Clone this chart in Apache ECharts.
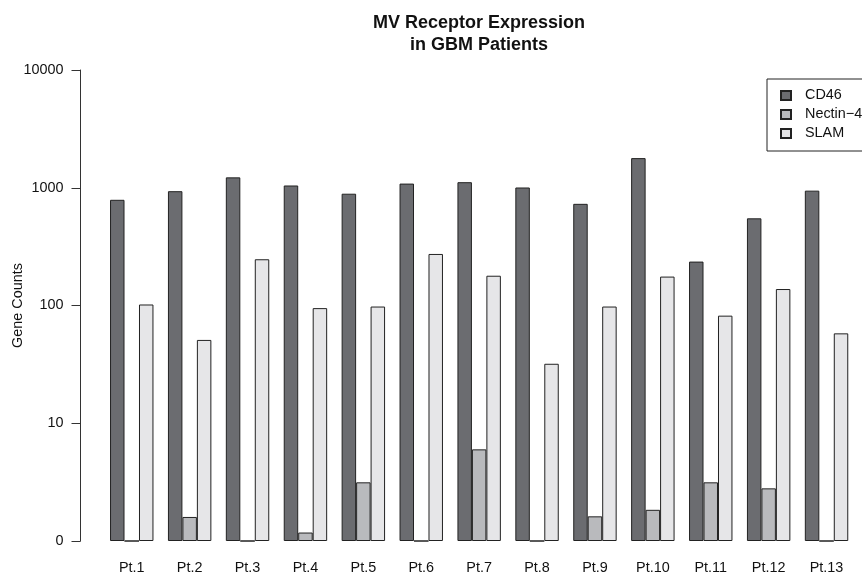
<!DOCTYPE html>
<html>
<head>
<meta charset="utf-8">
<title>MV Receptor Expression in GBM Patients</title>
<script src="https://cdn.jsdelivr.net/npm/echarts@6/dist/echarts.min.js"></script>
<style>
  html, body { margin: 0; padding: 0; background: #ffffff; }
  #chart { width: 862px; height: 574px; }
</style>
</head>
<body>
<div id="chart"></div>
<script>
// Patients on the x axis
const patients = ['Pt.1', 'Pt.2', 'Pt.3', 'Pt.4', 'Pt.5', 'Pt.6', 'Pt.7',
                  'Pt.8', 'Pt.9', 'Pt.10', 'Pt.11', 'Pt.12', 'Pt.13'];

// Gene counts per receptor (0 = not detected)
const cd46    = [790, 935, 1225, 1045, 890, 1085, 1115, 1005, 730, 1785, 236, 550, 945];
const nectin4 = [0, 1.6, 0, 1.18, 3.15, 0, 6.0, 0, 1.62, 1.84, 3.15, 2.8, 0];
const slam    = [102, 51, 247, 95, 98, 274, 179, 32, 98, 176, 82, 138, 58];

// Log axis range and the value shown as "0" at its floor
const AXIS_MIN = 1;
const AXIS_MAX = 10000;

const FONT = '"Liberation Sans", Arial, Helvetica, sans-serif';

// Zero counts sit on the axis floor so they draw as a flat bar
const toAxis = arr => arr.map(v => (v <= 0 ? AXIS_MIN : v));

const receptorSeries = [
  { name: 'CD46',          data: cd46,    color: '#6b6c70' },
  { name: 'Nectin\u22124', data: nectin4, color: '#b9babd' },
  { name: 'SLAM',          data: slam,    color: '#e6e6e8' }
];

const chart = echarts.init(document.getElementById('chart'), null, { renderer: 'canvas' });

const option = {
  animation: false,
  backgroundColor: '#ffffff',
  textStyle: { fontFamily: FONT },
  title: {
    text: 'MV Receptor Expression\nin GBM Patients',
    left: 479,
    top: 12,
    padding: 0,
    textAlign: 'center',
    textStyle: {
      fontFamily: FONT,
      fontSize: 18,
      fontWeight: 'bold',
      color: '#111111',
      lineHeight: 22
    }
  },
  legend: {
    orient: 'vertical',
    left: 767,
    top: 79,
    padding: [7, 30, 8, 13],
    itemGap: 0,
    itemWidth: 10,
    itemHeight: 9,
    icon: 'rect',
    borderColor: '#222222',
    borderWidth: 1,
    backgroundColor: '#ffffff',
    selectedMode: false,
    textStyle: {
      fontFamily: FONT,
      fontSize: 14.4,
      color: '#111111',
      lineHeight: 19,
      padding: [0, 0, 0, 9]
    },
    data: receptorSeries.map(s => s.name)
  },
  grid: {
    left: 102.8,
    right: 6.5,
    top: 70,
    bottom: 33,
    containLabel: false,
    outerBoundsMode: 'none'
  },
  xAxis: {
    type: 'category',
    data: patients,
    axisLine: { show: false },
    axisTick: { show: false },
    axisLabel: {
      fontFamily: FONT,
      fontSize: 14.4,
      color: '#111111',
      margin: 20,
      interval: 0
    }
  },
  yAxis: {
    type: 'log',
    logBase: 10,
    min: AXIS_MIN,
    max: AXIS_MAX,
    offset: 22.3,
    name: 'Gene Counts',
    nameLocation: 'middle',
    nameRotate: 90,
    nameGap: 55,
    nameMoveOverlap: false,
    nameTextStyle: { fontFamily: FONT, fontSize: 14.4, color: '#111111' },
    axisLine: { show: true, lineStyle: { color: '#333333', width: 1 } },
    axisTick: { show: true, length: 9, lineStyle: { color: '#333333', width: 1 } },
    splitLine: { show: false },
    minorTick: { show: false },
    axisLabel: {
      fontFamily: FONT,
      fontSize: 14.4,
      color: '#111111',
      margin: 17,
      formatter: v => (Math.abs(v - AXIS_MIN) < 1e-9 ? '0' : String(Math.round(v)))
    }
  },
  series: receptorSeries.map(s => ({
    name: s.name,
    type: 'bar',
    data: toAxis(s.data),
    barGap: '0%',
    barCategoryGap: '25%',
    itemStyle: {
      color: s.color,
      borderColor: '#222222',
      borderWidth: 1
    },
    emphasis: { disabled: true }
  }))
};

chart.setOption(option);
</script>
</body>
</html>
